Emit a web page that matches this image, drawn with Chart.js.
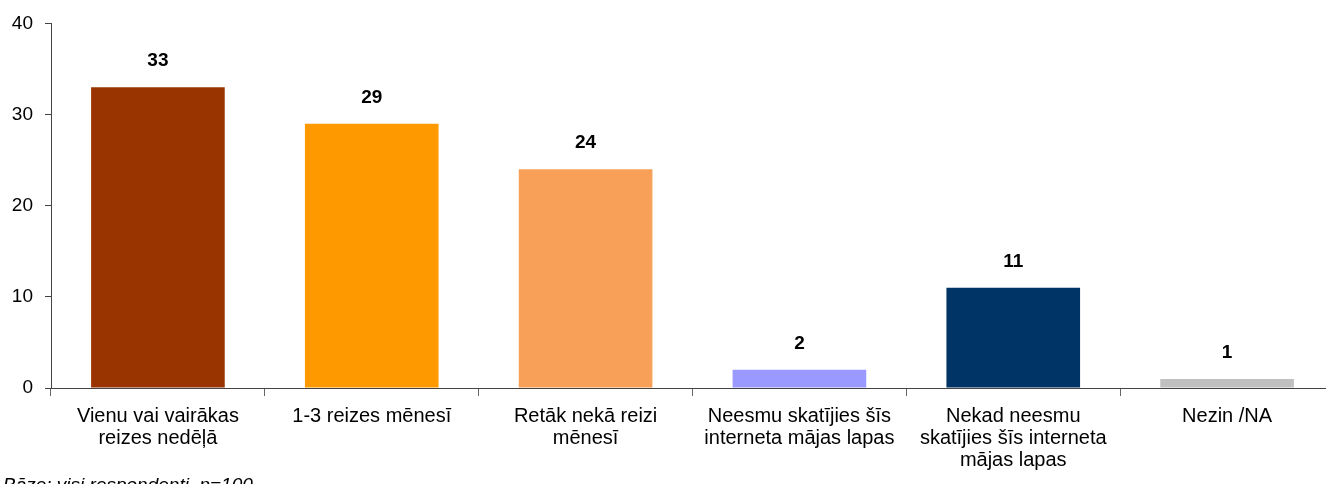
<!DOCTYPE html>
<html>
<head>
<meta charset="utf-8">
<script src="https://cdn.jsdelivr.net/npm/chart.js@4.4.0/dist/chart.umd.min.js"></script>
<style>
html,body{margin:0;padding:0;background:#fff;overflow:hidden;}
#wrap{position:relative;width:1334px;height:484px;}
#note{position:absolute;left:3px;top:474px;font:italic 19px "Liberation Sans",Arial,sans-serif;color:#000;white-space:nowrap;}
</style>
</head>
<body>
<div id="wrap">
<canvas id="chart"></canvas>
<div id="note">Bāze: visi respondenti, n=100</div>
</div>
<script>
const labels=[
  ["Vienu vai vairākas","reizes nedēļā"],
  "1-3 reizes mēnesī",
  ["Retāk nekā reizi","mēnesī"],
  ["Neesmu skatījies šīs","interneta mājas lapas"],
  ["Nekad neesmu","skatījies šīs interneta","mājas lapas"],
  "Nezin /NA"
];
const values=[33,29,24,2,11,1];
const barColors=["#993300","#FF9900","#F8A057","#9999FF","#003366","#C0C0C0"];
const yTicks=[0,10,20,30,40];

const FONT='"Liberation Sans", Arial, sans-serif';

// value labels above bars
const valueLabels={
  id:"valueLabels",
  afterDatasetsDraw(chart){
    const ctx=chart.ctx;
    const meta=chart.getDatasetMeta(0);
    ctx.save();
    ctx.font="bold 19px "+FONT;
    ctx.fillStyle="#000";
    ctx.textAlign="center";
    ctx.textBaseline="middle";
    meta.data.forEach((bar,i)=>{
      ctx.fillText(values[i],bar.x,bar.y-26);
    });
    ctx.restore();
  }
};

new Chart(document.getElementById("chart"),{
  type:"bar",
  data:{
    labels:labels,
    datasets:[{
      data:values,
      backgroundColor:barColors,
      borderWidth:0,
      categoryPercentage:1,
      barPercentage:0.625
    }]
  },
  options:{
    responsive:true,
    maintainAspectRatio:false,
    animation:false,
    layout:{padding:{top:12,left:0,right:0,bottom:0}},
    plugins:{legend:{display:false},tooltip:{enabled:false}},
    scales:{
      x:{
        grid:{display:true,drawOnChartArea:false,offset:true,tickLength:8,color:"#666"},
        border:{color:"#444",width:1},
        ticks:{color:"#000",font:{family:FONT,size:20,lineHeight:1.1},padding:9,maxRotation:0,autoSkip:false},
        afterFit(axis){axis.height=96;}
      },
      y:{
        min:0,max:40,
        afterBuildTicks(axis){axis.ticks=yTicks.map(v=>({value:v}));},
        grid:{display:true,drawOnChartArea:false,tickLength:6,color:"#444"},
        border:{color:"#444",width:1},
        ticks:{color:"#000",font:{family:FONT,size:19},padding:12},
        afterFit(axis){axis.width=51;}
      }
    }
  },
  plugins:[valueLabels]
});
</script>
</body>
</html>
